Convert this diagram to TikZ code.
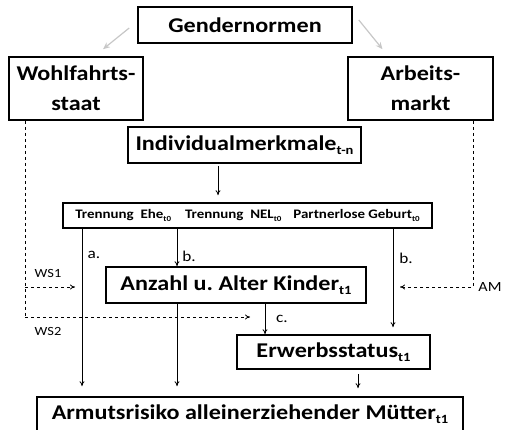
\documentclass[tikz,border=0pt]{standalone}
\usepackage{fontspec}
\setmainfont{Carlito}[FakeStretch=1.15]
\usetikzlibrary{arrows.meta}
\newcommand\idx[1]{\raisebox{-0.35ex}{\scalebox{0.6}{#1}}}
\frenchspacing
\begin{document}
\begin{tikzpicture}[x=1pt, y=-1pt, >={To[length=5pt,width=5pt]},
  box/.style={draw, line width=1.6pt, inner sep=0pt, align=center, font=\fontsize{21}{30}\selectfont\bfseries},
  thin arrow/.style={->, line width=0.8pt},
  dash arrow/.style={->, dashed, line width=0.8pt},
  gray arrow/.style={-{Stealth[length=7pt,width=6pt]}, line width=1.2pt, black!22},
  lab/.style={font=\fontsize{15}{16}\selectfont, inner sep=1pt}]
\useasboundingbox (0,0) rectangle (505,430);
% boxes
\node [box, minimum width=214pt, minimum height=36pt] (gender) at (245,25) {Gendernormen};
\node [box, minimum width=134pt, minimum height=63pt] (wohl) at (76,88.5) {Wohlfahrts-\\staat};
\node [box, minimum width=145pt, minimum height=63pt] (arbeit) at (420.5,88.5) {Arbeits-\\markt};
\node [box, minimum width=233pt, minimum height=36pt] (indiv) at (244.5,145) {Individualmerkmale\idx{t-n}};
\node [box, minimum width=369pt, minimum height=25pt, font=\fontsize{13}{14}\selectfont\bfseries] (trenn) at (247.5,215.5)
  {Trennung~~Ehe\idx{t0}\hspace{14pt}Trennung~~NEL\idx{t0}\hspace{12pt}Partnerlose~Geburt\idx{t0}};
\node [box, minimum width=260pt, minimum height=36pt] (anzahl) at (236,285) {Anzahl u. Alter Kinder\idx{t1}};
\node [box, minimum width=193pt, minimum height=34pt] (erwerb) at (333.5,352) {Erwerbsstatus\idx{t1}};
\node [box, minimum width=426pt, minimum height=34pt] (armut) at (250,414) {Armutsrisiko alleinerziehender Mütter\idx{t1}};
% turning points of the dashed paths
\coordinate (ws1) at (25,287);
\coordinate (ws2) at (25,317);
\coordinate (am) at (473,287);
% grey arrows
\draw [gray arrow] ([xshift=-8pt,yshift=-3pt]gender.west) -- ([xshift=27pt,yshift=7pt]wohl.north);
\draw [gray arrow] ([xshift=6pt,yshift=5pt]gender.east) -- ([xshift=-38pt,yshift=7pt]arbeit.north);
% solid arrows
\draw [thin arrow, shorten >=7pt, shorten <=2pt] (indiv.south -| 218,0) -- (trenn.north -| 218,0);
\draw [thin arrow, shorten >=10pt] (trenn.south -| 82,0) -- (armut.north -| 82,0);
\draw [thin arrow] (trenn.south -| 177,0) -- (anzahl.north -| 177,0);
\draw [thin arrow, shorten >=10pt] (anzahl.south -| 177,0) -- (armut.north -| 177,0);
\draw [thin arrow] (anzahl.south -| 265,0) -- (erwerb.north -| 265,0);
\draw [thin arrow, shorten >=7pt] (trenn.south -| 393,0) -- (erwerb.north -| 393,0);
\draw [thin arrow, shorten >=8pt, shorten <=4pt] (erwerb.south -| 358,0) -- (armut.north -| 358,0);
\node [lab] (la) at (94,255) {a.};
\node [lab] (lb1) at (189,256) {b.};
\node [lab] (lb2) at (406,258) {b.};
\node [lab] (lc) at (282,319) {c.};
% dashed paths
\draw [dashed, line width=0.8pt] (wohl.south -| ws2) -- (ws2);
\draw [dash arrow, shorten >=7pt] (ws1) -- (ws1 -| 82,0);
\draw [dash arrow, shorten >=15pt] (ws2) -- (ws2 -| 265,0);
\draw [dash arrow, shorten >=7pt] (arbeit.south -| am) -- (am) -- (am -| 393,0);
\node [lab, font=\fontsize{12.5}{13}\selectfont] (lws1) at (48,273) {WS1};
\node [lab, font=\fontsize{12.5}{13}\selectfont] (lws2) at (48,331) {WS2};
\node [lab, font=\fontsize{14}{15}\selectfont] (lam) at (490,287) {AM};
\end{tikzpicture}
\end{document}
